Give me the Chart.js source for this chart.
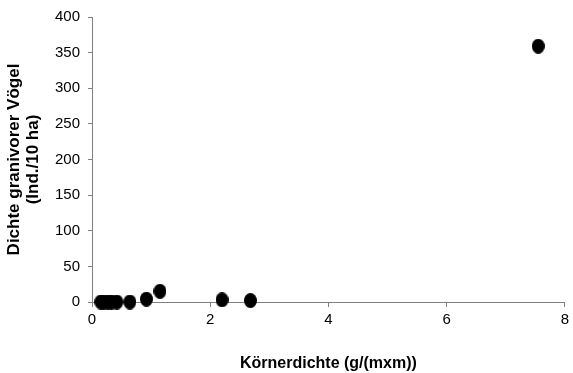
<!DOCTYPE html>
<html>
<head>
<meta charset="utf-8">
<script src="https://cdn.jsdelivr.net/npm/chart.js@4/dist/chart.umd.min.js"></script>
<style>
html,body{margin:0;padding:0;background:#fff;}
canvas{display:block;}
</style>
</head>
<body>
<canvas id="c" width="573" height="373"></canvas>
<script>
// Data
const kornerdichte = [0.15, 0.20, 0.27, 0.33, 0.42, 0.64, 0.92, 1.15, 2.20, 2.68, 7.55];
const vogeldichte  = [0, 0, 0, 0, 0, 0, 4, 15, 3, 2, 359];
const xTicks = [0, 2, 4, 6, 8];
const yTicks = [0, 50, 100, 150, 200, 250, 300, 350, 400];
const xTitle = 'Körnerdichte (g/(mxm))';
const yTitle = ['Dichte granivorer Vögel', '(Ind./10 ha)'];

const points = kornerdichte.map((x, i) => ({x: x, y: vogeldichte[i]}));

// elliptical marker
const marker = document.createElement('canvas');
marker.width = 13; marker.height = 15;
(function(){
  const m = marker.getContext('2d');
  m.fillStyle = '#000';
  m.beginPath();
  m.ellipse(6.5, 7.5, 6.5, 7.5, 0, 0, Math.PI * 2);
  m.fill();
})();

const axisColor = '#808080';
const FONT = "'Liberation Sans', Arial, sans-serif";

new Chart(document.getElementById('c'), {
  type: 'scatter',
  data: {
    datasets: [{
      data: points,
      pointStyle: marker,
      pointRadius: 7,
      backgroundColor: '#000',
      borderColor: '#000',
      clip: false
    }]
  },
  options: {
    responsive: false,
    devicePixelRatio: 1,
    animation: false,
    layout: { padding: { top: 17, right: 5, left: 0, bottom: 0 } },
    plugins: { legend: { display: false }, tooltip: { enabled: false } },
    scales: {
      x: {
        type: 'linear',
        min: xTicks[0],
        max: xTicks[xTicks.length - 1],
        afterBuildTicks: (s) => { s.ticks = xTicks.map(v => ({value: v})); },
        afterFit: (s) => { s.height = 71; },
        border: { display: true, color: axisColor, width: 1 },
        grid: { drawOnChartArea: false, drawTicks: true, tickLength: 5, color: axisColor, tickColor: axisColor },
        ticks: { color: '#000', padding: 4, font: { family: FONT, size: 15 } },
        title: {
          display: true, text: xTitle, color: '#000',
          font: { family: FONT, size: 16, weight: 'bold' },
          padding: { top: 0, bottom: 0 }
        }
      },
      y: {
        type: 'linear',
        min: yTicks[0],
        max: yTicks[yTicks.length - 1],
        afterBuildTicks: (s) => { s.ticks = yTicks.map(v => ({value: v})); },
        afterFit: (s) => { s.width = 92; },
        border: { display: true, color: axisColor, width: 1 },
        grid: { drawOnChartArea: false, drawTicks: true, tickLength: 4, color: axisColor, tickColor: axisColor },
        ticks: { color: '#000', padding: 8, font: { family: FONT, size: 15 } },
        title: {
          display: true, text: yTitle, color: '#000',
          font: { family: FONT, size: 17, weight: 'bold', lineHeight: '19px' },
          padding: { top: 5, bottom: 0 }
        }
      }
    }
  }
});
</script>
</body>
</html>
